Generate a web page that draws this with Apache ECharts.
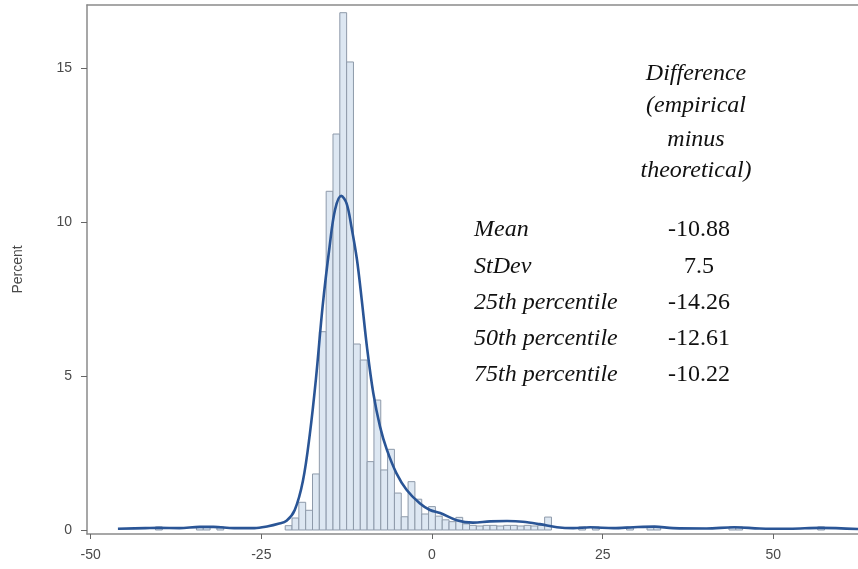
<!DOCTYPE html>
<html>
<head>
<meta charset="utf-8">
<script src="https://cdn.jsdelivr.net/npm/echarts@6/dist/echarts.min.js"></script>
<style>
  html, body { margin: 0; padding: 0; background: #fff; }
  #chart { width: 858px; height: 569px; }
</style>
</head>
<body>
<div id="chart"></div>
<script>
// histogram bins (width 1, centred on integers) and percent per bin
const binCenters = [-40, -34, -33, -31,
  -21, -20, -19, -18, -17, -16, -15, -14, -13, -12, -11, -10, -9, -8, -7, -6, -5, -4, -3, -2, -1,
  0, 1, 2, 3, 4, 5, 6, 7, 8, 9, 10, 11, 12, 13, 14, 15, 16, 17,
  22, 24, 29, 32, 33, 44, 45, 57];
const binPercents = [0.1, 0.1, 0.1, 0.1,
  0.14, 0.39, 0.9, 0.64, 1.82, 6.44, 11.0, 12.86, 16.8, 15.2, 6.04, 5.52, 2.22, 4.22, 1.95, 2.62, 1.2, 0.43, 1.57, 1.0, 0.52,
  0.76, 0.45, 0.33, 0.27, 0.41, 0.2, 0.15, 0.13, 0.15, 0.15, 0.13, 0.15, 0.15, 0.13, 0.15, 0.13, 0.15, 0.42,
  0.1, 0.1, 0.1, 0.1, 0.1, 0.1, 0.1, 0.1];

// density curve
const curveX = [-46, -42, -40, -37, -34, -32, -29, -26, -24, -22.5, -21.3, -20.1, -18.9, -17.9, -17, -16, -15, -14.2,
  -13.3, -12.5, -11.8, -11, -10.3, -9.5, -8.6, -7.6, -6.6, -5.2, -3.7, -1.8, -0.3, 1.2, 3.6, 6, 8.5, 11, 13.3,
  15.8, 18.3, 20.7, 23.2, 26.6, 29.5, 32.6, 35.3, 40.2, 44.3, 48, 52.4, 56.8, 62.4];
const curveY = [0.04, 0.06, 0.07, 0.06, 0.1, 0.1, 0.06, 0.06, 0.12, 0.2, 0.3, 0.65, 1.6, 3.1, 4.9, 7.3, 9.2, 10.4,
  10.85, 10.6, 9.85, 8.8, 7.5, 5.9, 4.45, 3.35, 2.6, 1.84, 1.3, 0.87, 0.65, 0.55, 0.32, 0.24, 0.28, 0.29, 0.27,
  0.19, 0.09, 0.06, 0.09, 0.06, 0.09, 0.11, 0.06, 0.05, 0.09, 0.05, 0.04, 0.07, 0.03];

const xTicks = [-50, -25, 0, 25, 50];
const yTicks = [0, 5, 10, 15];

const titleLines = ["Difference", "(empirical", "minus", "theoretical)"];
const statLabels = ["Mean", "StDev", "25th percentile", "50th percentile", "75th percentile"];
const statValues = ["-10.88", "7.5", "-14.26", "-12.61", "-10.22"];

const chart = echarts.init(document.getElementById('chart'));

const axisGray = '#8a8a8a';
const labelStyle = { color: '#4a4a4a', fontSize: 14, fontFamily: 'Liberation Sans, Arial, sans-serif' };
const serif = 'Liberation Serif, Times New Roman, serif';

const graphics = [];
const titleY = [74, 106, 140, 171];
titleLines.forEach((t, i) => {
  graphics.push({
    type: 'text', x: 696, y: titleY[i],
    style: { text: t, fontFamily: serif, fontStyle: 'italic', fontSize: 24, fill: '#111',
      textAlign: 'center', textVerticalAlign: 'middle' }
  });
});
const rowY = [230, 266.5, 303, 339, 375];
statLabels.forEach((t, i) => {
  graphics.push({
    type: 'text', x: 474, y: rowY[i],
    style: { text: t, fontFamily: serif, fontStyle: 'italic', fontSize: 24, fill: '#111',
      textAlign: 'left', textVerticalAlign: 'middle' }
  });
  graphics.push({
    type: 'text', x: 699, y: rowY[i],
    style: { text: statValues[i], fontFamily: serif, fontSize: 24, fill: '#111',
      textAlign: 'center', textVerticalAlign: 'middle' }
  });
});

chart.setOption({
  animation: false,
  grid: { left: 87, top: 5, right: 0, bottom: 35 },
  xAxis: [{
    type: 'value', min: -50.53, max: 62.4,
    splitLine: { show: false },
    axisLine: { show: true, onZero: false, lineStyle: { color: axisGray, width: 1.5 } },
    axisTick: { show: true, length: 5, customValues: xTicks, lineStyle: { color: '#666' } },
    axisLabel: Object.assign({ margin: 14, customValues: xTicks }, labelStyle)
  }, {
    // top frame line
    type: 'value', position: 'top', min: -50.53, max: 62.4,
    splitLine: { show: false },
    axisLine: { show: true, onZero: false, lineStyle: { color: axisGray, width: 1.5 } },
    axisTick: { show: false },
    axisLabel: { show: false }
  }],
  yAxis: {
    type: 'value', min: -0.13, max: 17.05,
    name: 'Percent', nameLocation: 'middle', nameGap: 62, nameRotate: 90,
    nameTextStyle: labelStyle,
    splitLine: { show: false },
    axisLine: { show: true, onZero: false, lineStyle: { color: axisGray, width: 1.5 } },
    axisTick: { show: true, length: 6, customValues: yTicks, lineStyle: { color: '#666' } },
    axisLabel: Object.assign({ margin: 15, customValues: yTicks }, labelStyle)
  },
  series: [
    {
      type: 'custom',
      clip: true,
      data: binCenters.map((c, i) => [c, binPercents[i]]),
      renderItem: function (params, api) {
        const c = api.value(0), v = api.value(1);
        const p0 = api.coord([c - 0.5, 0]);
        const p1 = api.coord([c + 0.5, v]);
        return {
          type: 'rect',
          shape: { x: p0[0], y: p1[1], width: p1[0] - p0[0], height: p0[1] - p1[1] },
          style: { fill: '#dde7f2', stroke: '#8e9aaa', lineWidth: 1 }
        };
      }
    },
    {
      type: 'line',
      data: curveX.map((x, i) => [x, curveY[i]]),
      smooth: 0.35,
      symbol: 'none',
      lineStyle: { color: '#2a5596', width: 2.6 },
      z: 3
    }
  ],
  graphic: graphics
});
</script>
</body>
</html>
